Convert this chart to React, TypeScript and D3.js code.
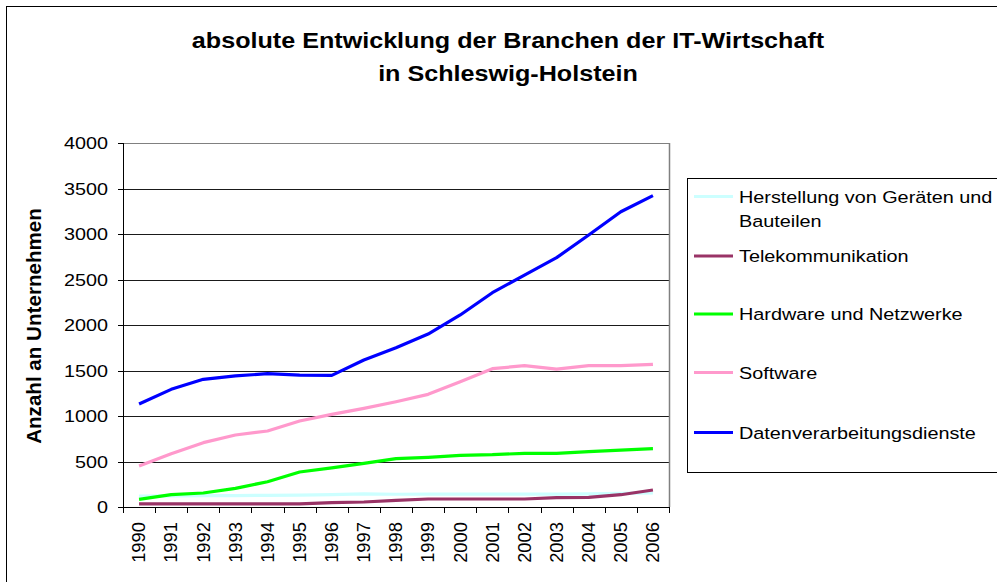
import React from "react";
import * as d3 from "d3";

const years = ["1990","1991","1992","1993","1994","1995","1996","1997","1998","1999","2000","2001","2002","2003","2004","2005","2006"];
const herstellung = [120,122,124,126,128,130,135,145,140,142,142,142,142,142,145,150,155];
const telekom = [35,35,35,35,35,35,47,55,73,88,88,88,88,102,106,135,187];
const hardware = [84,136,154,205,278,385,429,480,531,546,568,575,590,590,608,626,641];
const software = [450,586,707,791,835,945,1018,1084,1157,1238,1377,1520,1553,1516,1553,1553,1568];
const daten = [1132,1293,1403,1440,1465,1450,1447,1615,1750,1901,2110,2355,2549,2740,2989,3245,3421];
const yTicks = [0,500,1000,1500,2000,2500,3000,3500,4000];
const seriesNames = ["Herstellung von Geräten und|Bauteilen","Telekommunikation","Hardware und Netzwerke","Software","Datenverarbeitungsdienste"];
const seriesColors = ["#CCFFFF","#993366","#00FF00","#FF99CC","#0000FF"];
const seriesValues = [herstellung, telekom, hardware, software, daten];

const FONT = "'Liberation Sans', Arial, sans-serif";

export default function App() {
  const W = 997, H = 582;
  const left = 123, right = 669, top = 143, bottom = 507;
  const x = d3.scaleBand<string>().domain(years).range([left, right]).padding(0);
  const y = d3.scaleLinear().domain([0, 4000]).range([bottom, top]);
  const line = d3.line<number>()
    .x((_, i) => (x(years[i]) as number) + x.bandwidth() / 2)
    .y((v) => y(v));

  const legX = 687, legY = 178;
  const legRowY = [196.5, 256, 314, 372.5, 432.5];

  return (
    <div style={{ position: "absolute", left: 0, top: 0, width: W, height: H, overflow: "hidden", background: "#fff" }}>
      <svg width={W} height={H} style={{ display: "block" }} fontFamily={FONT}>
        <rect x={0} y={0} width={W} height={H} fill="#fff" />
        <rect x={6.5} y={6.5} width={1100} height={700} fill="none" stroke="#000" strokeWidth={1} />
        <text transform={`translate(508,48) scale(1.17,1)`} textAnchor="middle" fontWeight="bold" fontSize={21.5}>absolute Entwicklung der Branchen der IT-Wirtschaft</text>
        <text transform={`translate(508,81) scale(1.17,1)`} textAnchor="middle" fontWeight="bold" fontSize={21.5}>in Schleswig-Holstein</text>

        {/* gridlines */}
        {yTicks.map((t) => (
          <line key={"g" + t} x1={left} x2={right} y1={Math.round(y(t)) + 0.5} y2={Math.round(y(t)) + 0.5}
            stroke={t === 4000 ? "#808080" : "#1a1a1a"} strokeWidth={1} />
        ))}
        {/* plot border right */}
        <line x1={right + 0.5} x2={right + 0.5} y1={top} y2={bottom} stroke="#808080" strokeWidth={1.5} />
        {/* axes */}
        <line x1={left + 0.5} x2={left + 0.5} y1={top} y2={bottom + 1} stroke="#000" />
        <line x1={left} x2={right + 1} y1={bottom + 0.5} y2={bottom + 0.5} stroke="#000" />
        {yTicks.map((t) => (
          <g key={"yt" + t}>
            <line x1={left - 5} x2={left} y1={Math.round(y(t)) + 0.5} y2={Math.round(y(t)) + 0.5} stroke="#000" />
            <text transform={`translate(108,${y(t)}) scale(1.165,1)`} textAnchor="end" dy="0.36em" fontSize={17}>{t}</text>
          </g>
        ))}
        {years.map((yr) => {
          const xb = Math.round((x(yr) as number)) + 0.5;
          return <line key={"xt" + yr} x1={xb} x2={xb} y1={bottom} y2={bottom + 6} stroke="#000" />;
        })}
        <line x1={right + 0.5} x2={right + 0.5} y1={bottom} y2={bottom + 6} stroke="#000" />
        {years.map((yr) => {
          const cx = (x(yr) as number) + x.bandwidth() / 2;
          return (
            <text key={"xl" + yr} transform={`translate(${cx},522) rotate(-90) scale(1.05,1)`} textAnchor="end" dy="0.36em" fontSize={17.5}>{yr}</text>
          );
        })}
        <text transform={`translate(41,326) rotate(-90) scale(1.03,1)`} textAnchor="middle" fontWeight="bold" fontSize={20}>Anzahl an Unternehmen</text>

        {/* series */}
        {seriesValues.map((vals, i) => (
          <path key={"s" + i} d={line(vals) || ""} fill="none" stroke={seriesColors[i]} strokeWidth={3.2} strokeLinejoin="round" />
        ))}

        {/* legend */}
        <rect x={legX + 0.5} y={legY + 0.5} width={400} height={294} fill="#fff" stroke="#000" strokeWidth={1} />
        {seriesNames.map((nm, i) => {
          const ly = legRowY[i];
          const parts = nm.split("|");
          return (
            <g key={"lg" + i}>
              <line x1={694} x2={733} y1={ly} y2={ly} stroke={seriesColors[i]} strokeWidth={3.2} />
              {parts.map((p, j) => (
                <text key={j} transform={`translate(739,${ly + j * 24.5}) scale(1.14,1)`} dy="0.36em" fontSize={17.4}>{p}</text>
              ))}
            </g>
          );
        })}
      </svg>
    </div>
  );
}
